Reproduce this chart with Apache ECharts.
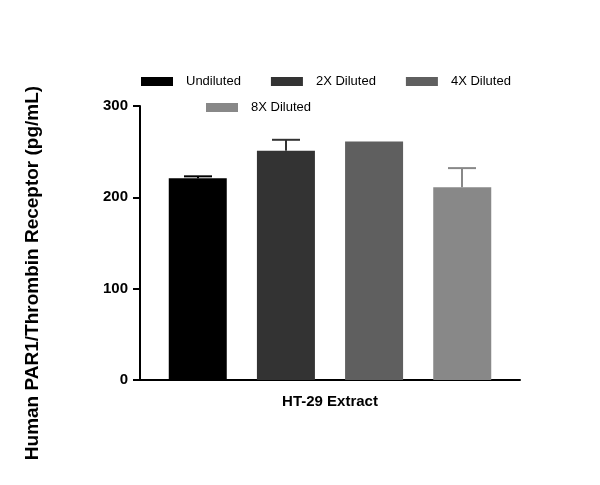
<!DOCTYPE html><html><head><meta charset="utf-8">
<script src="https://cdn.jsdelivr.net/npm/echarts@6/dist/echarts.min.js"></script></head>
<body style="margin:0"><div id="c" style="width:600px;height:485px"></div>
<script>
const categories=['HT-29 Extract'];
const seriesNames=['Undiluted','2X Diluted','4X Diluted','8X Diluted'];
const values=[221,251,261,211];
const errors=[2,12,0,21];
const colors=['#000000','#333333','#5f5f5f','#888888'];
const yTicks=[0,100,200,300];
const yTitle='Human PAR1/Thrombin Receptor (pg/mL)';
const c=echarts.init(document.getElementById('c'));
const series=seriesNames.map((n,i)=>({name:n,type:'bar',data:[values[i]],barWidth:58,barGap:'52%',itemStyle:{color:colors[i]}}));
series.push({type:'custom',data:[0],z:1,renderItem:(p,api)=>{
  const ch=[];
  values.forEach((v,i)=>{ if(!errors[i])return;
    const b=api.coord([0,v]), t=api.coord([0,v+errors[i]]);
    const x=b[0]+(i-1.5)*88;
    ch.push({type:'line',shape:{x1:x,y1:b[1],x2:x,y2:t[1]},style:{stroke:colors[i],lineWidth:2}});
    ch.push({type:'line',shape:{x1:x-14,y1:t[1],x2:x+14,y2:t[1]},style:{stroke:colors[i],lineWidth:2}});
  });
  return {type:'group',children:ch};
}});
const lt={fontFamily:'Liberation Sans',fontSize:13,color:'#000',padding:[0,0,0,8]};
c.setOption({
  animation:false,
  textStyle:{fontFamily:'Liberation Sans'},
  legend:[{data:seriesNames.slice(0,3),left:136,top:70,itemWidth:32,itemHeight:9,itemGap:30,textStyle:lt,icon:'rect'},
          {data:seriesNames.slice(3),left:201,top:96,itemWidth:32,itemHeight:9,textStyle:lt,icon:'rect'}],
  graphic:[{type:'text',x:33,y:273,rotation:Math.PI/2,style:{text:yTitle,font:'bold 19px Liberation Sans',fill:'#000',align:'center',verticalAlign:'middle'}}],
  grid:{left:140,right:80,top:106,bottom:105},
  xAxis:{type:'category',data:categories,axisLine:{lineStyle:{color:'#000',width:2}},
    axisTick:{alignWithLabel:true,length:8,lineStyle:{width:2}},
    axisLabel:{fontWeight:'bold',fontSize:15,color:'#000',margin:14}},
  yAxis:{type:'value',min:0,max:300,interval:100,
    axisLine:{show:true,lineStyle:{color:'#000',width:2}},
    axisTick:{show:true,length:7,lineStyle:{width:2}},splitLine:{show:false},
    axisLabel:{fontWeight:'bold',fontSize:15,color:'#000',margin:12,formatter:v=>yTicks.includes(v)?v:''}},
  series
});
</script></body></html>
